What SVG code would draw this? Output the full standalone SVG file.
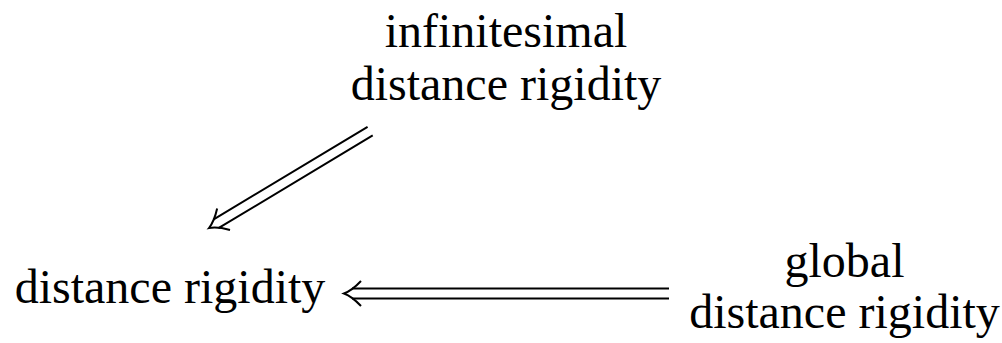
<svg xmlns="http://www.w3.org/2000/svg" width="1002" height="343" viewBox="0 0 1002 343">
<style>
.t{font-family:"Liberation Serif","Times New Roman",serif;font-size:48px;fill:#000;text-anchor:middle}
.s{fill:none;stroke:#000;stroke-width:2}
</style>
<rect width="1002" height="343" fill="#fff"/>
<g id="n-infinitesimal">
<text class="t" x="506" y="47">infinitesimal</text>
<text class="t" x="506" y="100">distance rigidity</text>
</g>
<g id="n-distance">
<text class="t" x="170" y="303">distance rigidity</text>
</g>
<g id="n-global">
<text class="t" x="844.5" y="277">global</text>
<text class="t" x="844.5" y="328">distance rigidity</text>
</g>
<g id="connectors">
<g transform="translate(344,293.5)">
<path class="s" d="M17,-12.5 Q8,-3 0,0 Q8,3 17,12.5"/>
<path class="s" d="M8,-5 H325 M8,5 H325"/>
</g>
<g transform="translate(209,228) rotate(-31)">
<path class="s" d="M17,-12.5 Q8,-3 0,0 Q8,3 17,12.5"/>
<path class="s" d="M8,-5 H188 M8,5 H188"/>
</g>
</g>
</svg>
